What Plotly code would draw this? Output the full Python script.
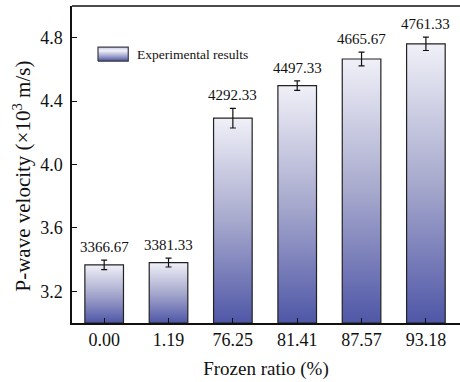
import plotly.graph_objects as go

# Frozen ratio categories and measured P-wave velocities
frozen_ratio = ["0.00", "1.19", "76.25", "81.41", "87.57", "93.18"]
velocity_ms = [3366.67, 3381.33, 4292.33, 4497.33, 4665.67, 4761.33]
error_ms = [30, 28, 62, 30, 43, 42]
value_labels = ["3366.67", "3381.33", "4292.33", "4497.33", "4665.67", "4761.33"]
y_ticks = [3.2, 3.6, 4.0, 4.4, 4.8]
legend_label = "Experimental results"
y_title = "P-wave velocity (×10<sup>3</sup> m/s)"

Y_MIN, Y_MAX = 3.0, 5.0
BAR_W = 0.6
FONT = "Liberation Serif, Times New Roman, serif"
DARK = "#4f57a7"
LIGHT = "#f0f0f8"
GRADIENT = [[0, DARK], [0.5, "#a7a9cd"], [1, LIGHT]]

vel = [v / 1000 for v in velocity_ms]
err = [e / 1000 for e in error_ms]

fig = go.Figure()

# gradient-filled bars: each bar is a closed polygon with a vertical gradient
for i, v in enumerate(vel):
    x0, x1 = i - BAR_W / 2, i + BAR_W / 2
    fig.add_trace(go.Scatter(
        x=[x0, x0, x1, x1, x0],
        y=[Y_MIN, v, v, Y_MIN, Y_MIN],
        mode="lines",
        fill="toself",
        fillgradient=dict(type="vertical", colorscale=GRADIENT),
        line=dict(color="#222222", width=1.2),
        showlegend=False,
        hoverinfo="skip",
    ))

# error bars
fig.add_trace(go.Scatter(
    x=list(range(len(vel))),
    y=vel,
    mode="markers",
    marker=dict(size=1, color="rgba(0,0,0,0)"),
    error_y=dict(type="data", array=err, visible=True,
                 color="#111111", thickness=1.2, width=3),
    showlegend=False,
    hoverinfo="skip",
))

# value labels above each error bar
for i, (v, e, lab) in enumerate(zip(vel, err, value_labels)):
    fig.add_annotation(x=i, y=v + e, text=lab, showarrow=False,
                       yanchor="bottom", yshift=3,
                       font=dict(family=FONT, size=15, color="#111111"))

# legend key: gradient swatch on a hidden overlay axis (unit square of the plot area)
kx0, kx1, ky0, ky1 = 0.067, 0.145, 0.826, 0.87
fig.add_trace(go.Scatter(
    x=[kx0, kx0, kx1, kx1, kx0],
    y=[ky0, ky1, ky1, ky0, ky0],
    xaxis="x2", yaxis="y2",
    mode="lines", fill="toself",
    fillgradient=dict(type="vertical",
                      colorscale=[[0, "#4a5196"], [0.35, "#9ea2cc"], [0.75, "#f2f2fa"], [1, "#c8cae2"]]),
    line=dict(color="#3a3a4a", width=1.2),
    showlegend=False, hoverinfo="skip",
))
fig.add_annotation(xref="x2", yref="y2", x=kx1 + 0.018, y=(ky0 + ky1) / 2,
                   text=legend_label, showarrow=False, xanchor="left", yanchor="middle",
                   font=dict(family=FONT, size=13.5, color="#111111"))

# y-axis title, rotated
fig.add_annotation(xref="paper", yref="paper", x=0, y=0.5, xshift=-50, yshift=-12,
                   text=y_title, textangle=-90, showarrow=False,
                   xanchor="center", yanchor="middle",
                   font=dict(family=FONT, size=21, color="#111111"))

# top frame line across the plot area
fig.add_shape(type="line", xref="paper", yref="paper", x0=0, x1=1, y0=1, y1=1,
              line=dict(color="#111111", width=1.5))

fig.update_layout(
    width=460, height=382,
    margin=dict(l=72, r=0, t=6, b=59),
    paper_bgcolor="white",
    plot_bgcolor="white",
    font=dict(family=FONT, color="#111111"),
    showlegend=False,
    xaxis=dict(
        range=[-0.5, len(vel) - 0.47],
        tickmode="array",
        tickvals=list(range(len(vel))),
        ticktext=frozen_ratio,
        ticks="inside", ticklen=5, tickwidth=1.2, tickcolor="#111111",
        showline=True, linecolor="#111111", linewidth=1.5, mirror=False,
        showgrid=False, zeroline=False,
        tickfont=dict(family=FONT, size=18),
        title=dict(text="Frozen ratio (%)", font=dict(family=FONT, size=19), standoff=12),
    ),
    yaxis=dict(
        range=[Y_MIN, Y_MAX],
        tickmode="array",
        tickvals=y_ticks,
        ticktext=[f"{t:.1f}" for t in y_ticks],
        ticks="inside", ticklen=5, tickwidth=1.2, tickcolor="#111111",
        showline=True, linecolor="#111111", linewidth=1.5, mirror=False,
        showgrid=False, zeroline=False,
        tickfont=dict(family=FONT, size=18),
        ticklabelstandoff=4,
    ),
    xaxis2=dict(overlaying="x", range=[0, 1], visible=False, fixedrange=True),
    yaxis2=dict(overlaying="y", range=[0, 1], visible=False, fixedrange=True),
)

fig.write_html("out.html")
